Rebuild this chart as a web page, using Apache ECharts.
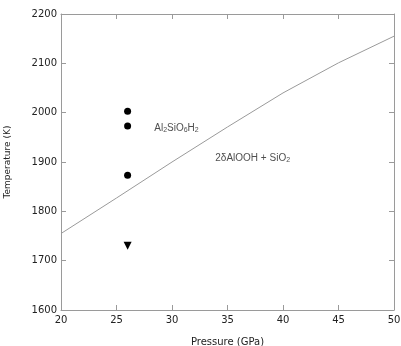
<!DOCTYPE html>
<html>
<head>
<meta charset="utf-8">
<script src="https://cdn.jsdelivr.net/npm/echarts@6/dist/echarts.min.js"></script>
<style>
  html, body { margin: 0; padding: 0; background: #fff; }
  #main { width: 401px; height: 346px; }
</style>
</head>
<body>
<div id="main"></div>
<script>
// phase boundary (pressure GPa, temperature K)
var boundaryP = [20, 25, 30, 35, 40, 45, 50];
var boundaryT = [1755, 1827, 1900, 1971, 2040, 2101, 2155];

// experiment points
var circleP = [26, 26, 26];
var circleT = [2003, 1973, 1873];
var triangleP = [26];
var triangleT = [1730];

// phase labels
var labelP = [28.4, 33.9];
var labelT = [1969, 1908];
var labelText = [
    'Al{s|2}SiO{s|6}H{s|2}',
    '2δAlOOH + SiO{s|2}'
];

var gray = '#9a9a9a';
var textColor = '#222';
var font = 'DejaVu Sans';

function zip(a, b) {
    return a.map(function (v, i) { return [v, b[i]]; });
}

var chart = echarts.init(document.getElementById('main'));

var option = {
    animation: false,
    grid: { left: 61, right: 7, top: 14, bottom: 36, containLabel: false, outerBoundsMode: 'none' },
    xAxis: [
        {
            type: 'value', min: 20, max: 50, interval: 5,
            name: 'Pressure (GPa)', nameLocation: 'middle', nameGap: 27,
            nameTextStyle: { fontFamily: font, fontSize: 10, color: textColor },
            axisLine: { show: true, lineStyle: { color: gray, width: 1 } },
            axisTick: { show: true, inside: true, length: 5, lineStyle: { color: gray } },
            axisLabel: { fontFamily: font, fontSize: 10, color: textColor, margin: 5 },
            splitLine: { show: false }
        },
        {
            type: 'value', min: 20, max: 50, interval: 5, position: 'top',
            axisLine: { show: true, lineStyle: { color: gray, width: 1 } },
            axisTick: { show: true, inside: true, length: 5, lineStyle: { color: gray } },
            axisLabel: { show: false },
            splitLine: { show: false }
        }
    ],
    yAxis: [
        {
            type: 'value', min: 1600, max: 2200, interval: 100,
            name: 'Temperature (K)', nameLocation: 'middle', nameGap: 49,
            nameTextStyle: { fontFamily: font, fontSize: 9, color: textColor },
            axisLine: { show: true, lineStyle: { color: gray, width: 1 } },
            axisTick: { show: true, inside: true, length: 5, lineStyle: { color: gray } },
            axisLabel: { fontFamily: font, fontSize: 10, color: textColor, margin: 4,
                formatter: function (v) { return String(v); } },
            splitLine: { show: false }
        },
        {
            type: 'value', min: 1600, max: 2200, interval: 100, position: 'right',
            axisLine: { show: true, lineStyle: { color: gray, width: 1 } },
            axisTick: { show: true, inside: true, length: 5, lineStyle: { color: gray } },
            axisLabel: { show: false },
            splitLine: { show: false }
        }
    ],
    series: [
        {
            type: 'line',
            data: zip(boundaryP, boundaryT),
            smooth: false,
            symbol: 'none',
            lineStyle: { color: gray, width: 1 }
        },
        {
            type: 'scatter',
            data: zip(circleP, circleT),
            symbol: 'circle',
            symbolSize: 7,
            itemStyle: { color: '#000', opacity: 1 }
        },
        {
            type: 'scatter',
            data: zip(triangleP, triangleT),
            symbol: 'triangle',
            symbolRotate: 180,
            symbolSize: 8,
            itemStyle: { color: '#000', opacity: 1 }
        },
        {
            type: 'scatter',
            symbolSize: 0,
            data: labelText.map(function (t, i) {
                return { value: [labelP[i], labelT[i]], label: { formatter: t } };
            }),
            label: {
                show: true,
                position: 'right',
                distance: 0,
                fontFamily: 'Liberation Sans',
                fontSize: 10,
                color: textColor,
                rich: {
                    s: { fontSize: 7, fontFamily: 'Liberation Sans', color: textColor, verticalAlign: 'bottom', padding: [5, 0, 0, 0] }
                }
            }
        }
    ]
};

chart.setOption(option);
</script>
</body>
</html>
